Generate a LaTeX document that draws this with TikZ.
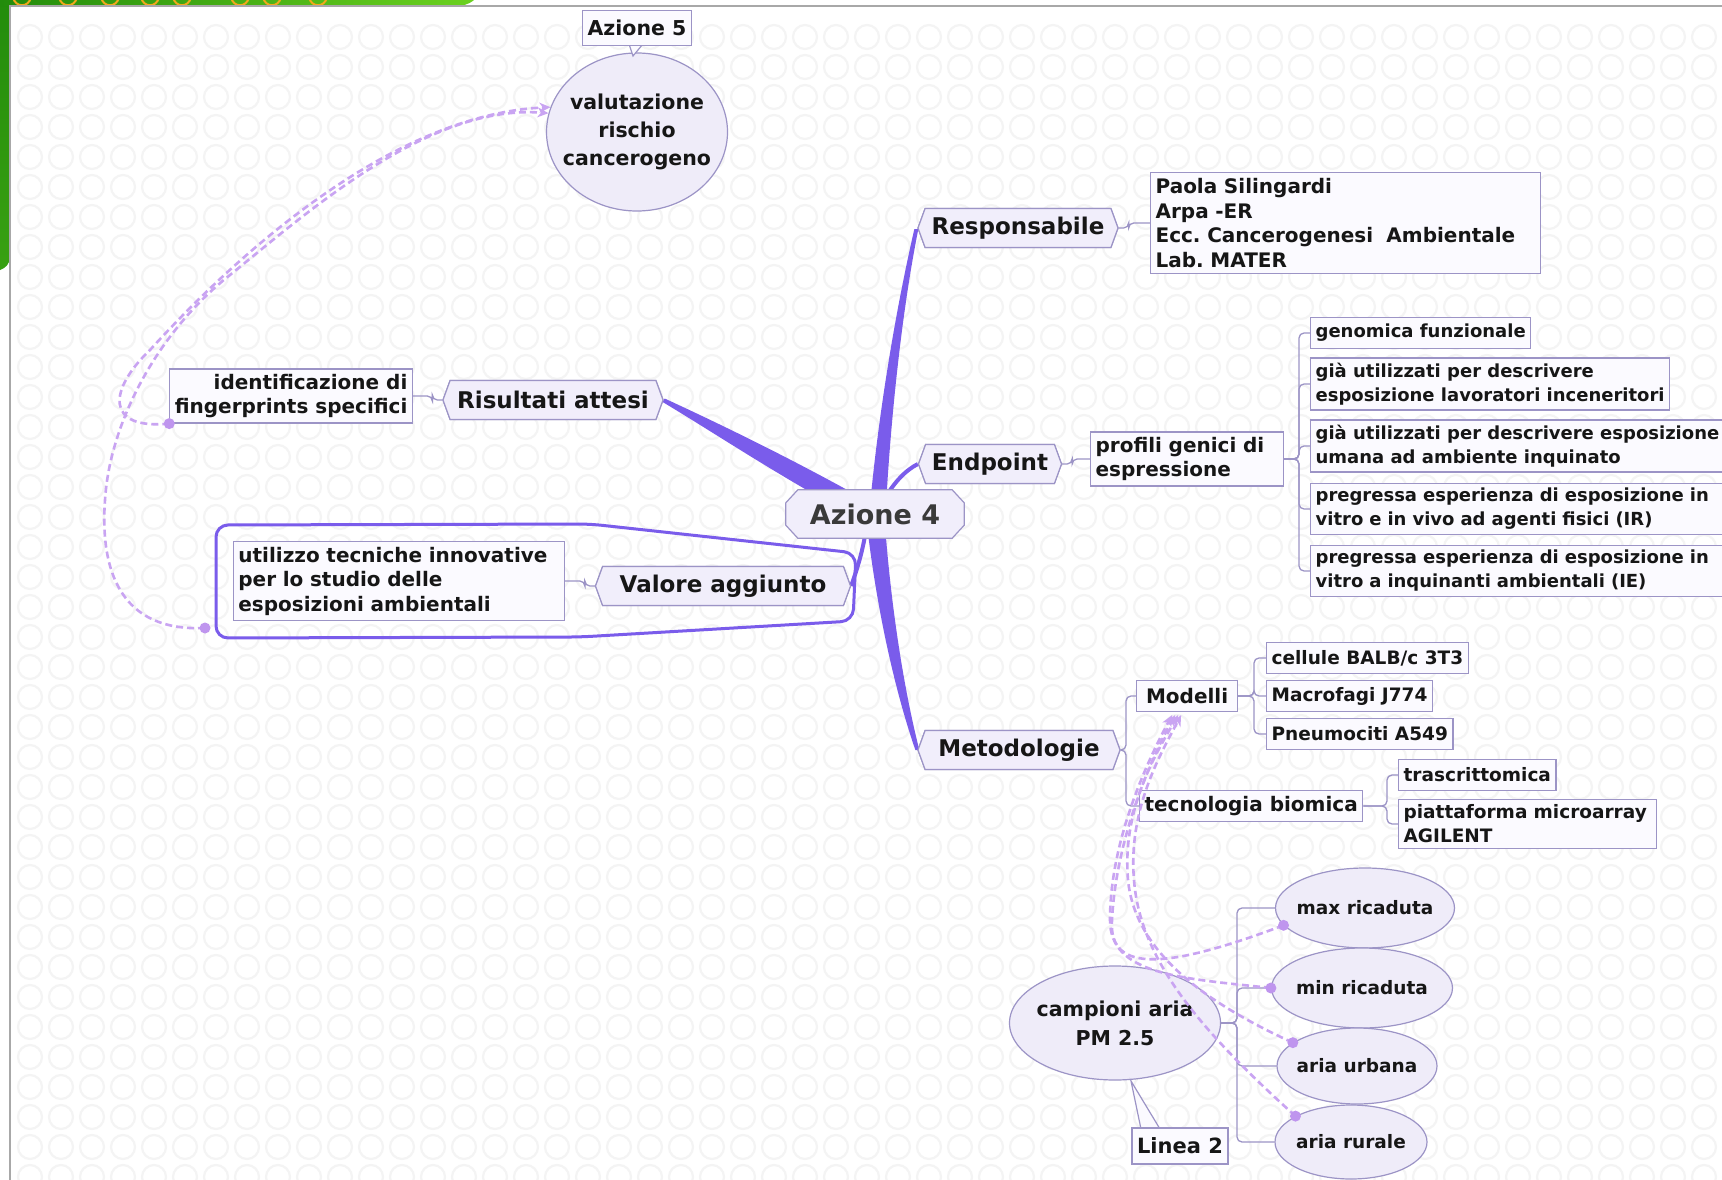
\documentclass[tikz,border=0pt]{standalone}
\usepackage{fontspec}
\setmainfont{DejaVu Sans}
\frenchspacing
\usetikzlibrary{shapes.geometric,shapes.misc,shapes.symbols,arrows.meta,calc}
\definecolor{bord}{HTML}{9C94C6}
\definecolor{hexfill}{HTML}{F1EEFB}
\definecolor{boxfill}{HTML}{FBFAFF}
\definecolor{ellfill}{HTML}{EFECF9}
\definecolor{branchc}{HTML}{7A5CEB}
\definecolor{dashc}{HTML}{C9A4F2}
\definecolor{dotc}{HTML}{BF95EE}
\definecolor{ringc}{HTML}{F4F4F4}
\definecolor{txt}{HTML}{161616}
\definecolor{aztxt}{HTML}{3A3A3A}
\definecolor{framec}{HTML}{A8A8A8}
\definecolor{gdark}{HTML}{238C0C}
\definecolor{glight}{HTML}{6BD11F}
\definecolor{orng}{HTML}{F2A81C}
\tikzset{
  hexn/.style={signal, signal to=east and west, signal pointer angle=140, draw=bord, line width=1.2pt, fill=hexfill, font=\fontsize{23}{27}\selectfont\bfseries, text=txt, minimum height=39pt, inner xsep=6pt},
  boxn/.style={rectangle, draw=bord, line width=1.2pt, fill=boxfill, font=\fontsize{18.5}{24}\selectfont\bfseries, text=txt, inner xsep=5pt, inner ysep=5pt, minimum height=31pt},
  boxm/.style={boxn, font=\fontsize{20}{24.5}\selectfont\bfseries},
  boxg/.style={boxn, font=\fontsize{18}{24}\selectfont\bfseries},
  elln/.style={ellipse, draw=bord, line width=1.2pt, fill=ellfill, font=\fontsize{18.5}{24}\selectfont\bfseries, text=txt, align=center, inner xsep=-14pt, inner ysep=0pt},
  conn/.style={draw=bord, line width=1.3pt, rounded corners=5pt},
  dconn/.style={draw=dashc, line width=2.6pt, dash pattern=on 7pt off 4pt, -{Stealth[length=11pt,width=10pt]}},
  dotn/.style={fill=dotc},
  blob/.style={draw=branchc, line width=3pt, rounded corners=12pt},
  tailn/.style={draw=bord, line width=1.2pt, fill=boxfill}
}
\begin{document}
\begin{tikzpicture}[x=1pt,y=-1pt]
\useasboundingbox (0,0) rectangle (1722,1180);
\clip (0,0) rectangle (1722,1180);
% background
\fill[white] (0,0) rectangle (1722,1180);
\begin{scope}
  \clip (11,7) rectangle (1722,1180);
  \foreach \i in {0,...,55} {
    \foreach \j in {0,...,38} {
      \draw[ringc, line width=2.2pt] (30+\i*31, 37+\j*30) circle (12pt);
    }
  }
\end{scope}
% green slide decoration
\shade[top color=gdark, bottom color=gdark!70!glight] (0,0) -- (10,0) -- (10,256) .. controls (10,265) and (5,268) .. (0,270) -- cycle;
\shade[left color=gdark, right color=glight] (0,0) -- (474,0) .. controls (468,5) and (462,6) .. (455,6) -- (0,6) -- cycle;
\begin{scope}
  \clip (10,0) rectangle (470,6);
  \foreach \x in {22,68,110,150,182,240,272,318} {
    \draw[orng, line width=2pt] (\x-9,-3) .. controls (\x-7,8) and (\x+7,8) .. (\x+9,-3);
  }
\end{scope}
\draw[framec, line width=1.5pt] (10,1180) -- (10,6) -- (1722,6);

% group outline of Valore aggiunto
\draw[blob] (216,525) -- (590,524) -- (856,553) -- (853,621) -- (580,637) -- (216,638) -- cycle;

% central node (anchors only)
\node[rectangle, minimum width=178pt, minimum height=48pt, inner sep=0pt] (az4) at (875,514) {};

% main nodes
\node[hexn, minimum width=200pt] (resp) at (1018,228) {Responsabile};
\node[hexn, minimum width=143pt] (endp) at (990,464) {Endpoint};
\node[hexn, minimum width=220pt] (risu) at (553,400) {Risultati attesi};
\node[hexn, minimum width=255pt] (valo) at (723,586) {Valore aggiunto};
\node[hexn, minimum width=202pt] (metod) at (1019,750) {Metodologie};

% tapered branches
\fill[branchc] (870,505) .. controls (880,400) and (898,300) .. ($(resp.west)+(-3,1)$) -- ($(resp.west)+(1,1)$) .. controls (904,300) and (892,400) .. (886,505) -- cycle;
\fill[branchc] (867,525) .. controls (878,620) and (898,700) .. ($(metod.west)+(-2,0)$) -- ($(metod.west)+(2,0)$) .. controls (906,698) and (892,618) .. (885,525) -- cycle;
\fill[branchc] (860,497) .. controls (790,458) and (720,424) .. ($(risu.east)+(1,-1.5)$) -- ($(risu.east)+(-1,2)$) .. controls (716,434) and (782,478) .. (850,514) -- cycle;
\draw[branchc, line width=4pt] (884,500) .. controls (894,482) and (906,470) .. (endp.west);
\draw[branchc, line width=4pt] (866,530) .. controls (862,555) and (856,572) .. (valo.east);

% central node outline and text on top
\filldraw[draw=bord, line width=1.2pt, fill=hexfill]
  ($(az4.north west)+(12,0)$) -- ($(az4.north east)+(-12,0)$) -- ($(az4.north east)+(0,13)$) --
  ($(az4.south east)+(0,-13)$) -- ($(az4.south east)+(-12,0)$) -- ($(az4.south west)+(12,0)$) --
  ($(az4.south west)+(0,-13)$) -- ($(az4.north west)+(0,13)$) -- cycle;
\node[font=\fontsize{27}{30}\selectfont\bfseries, text=aztxt] at (az4) {Azione 4};
% redraw hex nodes on top of branch tips
\node[hexn, minimum width=200pt] at (resp) {Responsabile};
\node[hexn, minimum width=143pt] at (endp) {Endpoint};
\node[hexn, minimum width=220pt] at (risu) {Risultati attesi};
\node[hexn, minimum width=255pt] at (valo) {Valore aggiunto};
\node[hexn, minimum width=202pt] at (metod) {Metodologie};

% Azione 5 and ellipse
\node[elln, minimum width=181pt, minimum height=158pt, font=\fontsize{20.5}{28}\selectfont\bfseries] (val) at (637,132) {valutazione\\rischio\\cancerogeno};
\draw[tailn] (629,44) -- (633,56) -- (643,44);
\node[boxn, minimum height=35pt, font=\fontsize{20.5}{24}\selectfont\bfseries] (az5) at (637,28) {Azione 5};

% Responsabile
\node[boxm, anchor=west, align=left, text width=380pt, inner ysep=6pt] (paola) at (1150,223) {Paola Silingardi\\Arpa -ER\\Ecc. Cancerogenesi\ \ Ambientale\\Lab. MATER};
\draw[conn] (resp.east) -- ++(10,0) |- (paola.west);

% Endpoint
\node[boxm, anchor=west, align=left, text width=183pt] (prof) at (1090,459) {profili genici di\\espressione};
\draw[conn] (endp.east) -- ++(10,0) |- (prof.west);
\node[boxg, anchor=west] (g1) at (1310,333) {genomica funzionale};
\node[boxg, anchor=west, align=left] (g2) at (1310,384) {già utilizzati per descrivere\\esposizione lavoratori inceneritori};
\node[boxg, anchor=west, align=left] (g3) at (1310,446) {già utilizzati per descrivere esposizione\\umana ad ambiente inquinato};
\node[boxg, anchor=west, align=left, text width=402pt] (g4) at (1310,509) {pregressa esperienza di esposizione in\\vitro e in vivo ad agenti fisici (IR)};
\node[boxg, anchor=west, align=left, text width=402pt] (g5) at (1310,571) {pregressa esperienza di esposizione in\\vitro a inquinanti ambientali (IE)};
\coordinate (bP) at (1299,0);
\foreach \n in {g1,g2,g3,g4,g5} { \draw[conn] (prof.east) -- (bP |- prof.east) |- (\n.west); }

% Risultati attesi
\node[boxm, anchor=east, align=right] (ident) at (413,396) {identificazione di\\fingerprints specifici};
\draw[conn] (risu.west) -- ++(-10,0) |- (ident.east);

% Valore aggiunto
\node[boxm, anchor=east, align=left, text width=321pt] (util) at (565,581) {utilizzo tecniche innovative\\per lo studio delle\\esposizioni ambientali};
\draw[conn] (valo.west) -- ++(-10,0) |- (util.east);

% Metodologie
\node[boxm, anchor=west, minimum width=101pt, align=left] (mod) at (1136,696) {Modelli};
\node[boxm, anchor=west] (tec) at (1139,806) {tecnologia biomica};
\coordinate (bM) at (1126,0);
\draw[conn] (metod.east) -- (bM |- metod.east) |- (mod.west);
\draw[conn] (metod.east) -- (bM |- metod.east) |- (tec.west);
\node[boxn, anchor=west] (c1) at (1266,658) {cellule BALB/c 3T3};
\node[boxn, anchor=west] (c2) at (1266,696) {Macrofagi J774};
\node[boxn, anchor=west] (c3) at (1266,734) {Pneumociti A549};
\coordinate (bMo) at (1254,0);
\foreach \n in {c1,c2,c3} { \draw[conn] (mod.east) -- (bMo |- mod.east) |- (\n.west); }
\node[boxn, anchor=west] (t1) at (1398,775) {trascrittomica};
\node[boxn, anchor=west, align=left, text width=248pt] (t2) at (1398,824) {piattaforma microarray\\AGILENT};
\coordinate (bT) at (1387,0);
\foreach \n in {t1,t2} { \draw[conn] (tec.east) -- (bT |- tec.east) |- (\n.west); }

% campioni aria
\node[elln, minimum width=211pt, minimum height=114pt, font=\fontsize{20.5}{29}\selectfont\bfseries] (camp) at (1115,1023) {campioni aria\\PM 2.5};
\draw[tailn] (1141,1129) -- (1131,1081) -- (1160,1129);
\node[boxn, minimum height=36pt, font=\fontsize{21}{24}\selectfont\bfseries] (lin) at (1180,1146) {Linea 2};
\node[elln, minimum width=179pt, minimum height=80pt] (e1) at (1365,908) {max ricaduta};
\node[elln, minimum width=181pt, minimum height=80pt] (e2) at (1362,988) {min ricaduta};
\node[elln, minimum width=160pt, minimum height=76pt] (e3) at (1357,1066) {aria urbana};
\node[elln, minimum width=152pt, minimum height=74pt] (e4) at (1351,1142) {aria rurale};
\coordinate (bC) at (1237,0);
\foreach \n in {e1,e2,e3,e4} { \draw[conn] (camp.east) -- (bC |- camp.east) |- (\n.west); }

% dashed relations
\coordinate (uDot) at (205,628);
\draw[dconn] (ident.south west) .. controls (105,430) and (108,390) .. (150,350) .. controls (250,240) and (400,114) .. (val.164);
\draw[dconn] (uDot) .. controls (120,632) and (100,570) .. (105,500) .. controls (110,420) and (160,330) .. (230,275) .. controls (310,210) and (430,104) .. (val.168);
\fill[dotn] (ident.south west) circle (5.5pt);
\fill[dotn] (uDot) circle (5.5pt);

\draw[dconn] (e1.192) .. controls (1170,968) and (1108,975) .. (1112,920) .. controls (1116,840) and (1150,760) .. ($(mod.south)+(-12,3)$);
\draw[dconn] (e2.180) .. controls (1180,978) and (1110,975) .. (1110,920) .. controls (1110,840) and (1148,760) .. ($(mod.south)+(-15,3)$);
\draw[dconn] (e3.160) .. controls (1200,1000) and (1135,950) .. (1128,880) .. controls (1122,810) and (1155,755) .. ($(mod.south)+(-9,3)$);
\draw[dconn] (e4.155) .. controls (1200,1030) and (1140,960) .. (1134,880) .. controls (1128,810) and (1160,755) .. ($(mod.south)+(-6,3)$);
\fill[dotn] (e1.192) circle (5.5pt);
\fill[dotn] (e2.180) circle (5.5pt);
\fill[dotn] (e3.160) circle (5.5pt);
\fill[dotn] (e4.155) circle (5.5pt);
\end{tikzpicture}
\end{document}
